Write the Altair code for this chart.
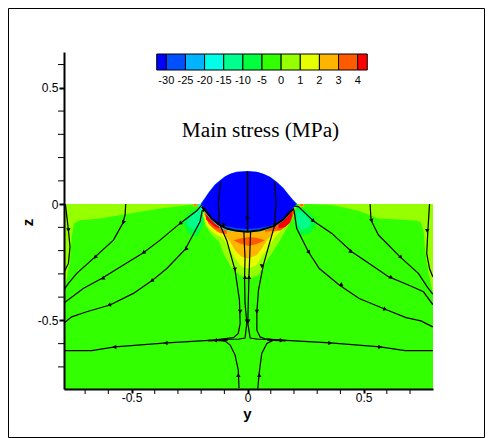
import altair as alt
import pandas as pd

# Axis limits
y_domain = [-0.791, 0.799]
z_domain = [-0.795, 0.654]
major_y = [-0.5, 0, 0.5]
major_z = [-0.5, 0, 0.5]
minor_y = [-0.7, -0.6, -0.4, -0.3, -0.2, -0.1, 0.1, 0.2, 0.3, 0.4, 0.6, 0.7]
minor_z = [0.6, 0.4, 0.3, 0.2, 0.1, -0.1, -0.2, -0.3, -0.4, -0.6, -0.7]

# Colour bar
bar_edges = [-0.5, 0, 1, 2, 3, 4, 5, 6, 7, 8, 9, 10, 10.5]
bar_colors = ["#0000ff", "#0050ff", "#00b4ff", "#00ffe6", "#00ff8c", "#00ff3c",
              "#32ff00", "#96ff00", "#e6ff00", "#ffb400", "#ff5a00", "#ff0000"]
bar_labels = ["-30", "-25", "-20", "-15", "-10", "-5", "0", "1", "2", "3", "4"]

# Filled contour bands, painted in this order: (colour, y, upper z, lower z)
bands = [
    ("#32ff00", [-0.791, 0.799], [0, 0], [-0.795, -0.795]),
    ("#96ff00", [-0.791, -0.780, -0.765, -0.758, -0.748, -0.722, -0.636, -0.521, -0.377, -0.226],
     [0] * 10, [-0.370, -0.327, -0.241, -0.141, -0.083, -0.069, -0.062, -0.043, -0.019, -0.001]),
    ("#96ff00", [0.248, 0.363, 0.478, 0.564, 0.708, 0.744, 0.758, 0.765, 0.780, 0.799],
     [0] * 10, [0, -0.004, -0.029, -0.062, -0.069, -0.076, -0.112, -0.198, -0.298, -0.384]),
    # side patches
    ("#00ff3c", [-0.280, -0.255, -0.219, -0.190], [-0.077, -0.040, -0.019, -0.004], [-0.077, -0.127, -0.140, -0.084]),
    ("#00ff8c", [-0.262, -0.240, -0.219, -0.205, -0.195], [-0.077, -0.048, -0.026, -0.012, -0.004],
     [-0.083, -0.105, -0.112, -0.098, -0.040]),
    ("#00ffe6", [-0.212, -0.195], [0, 0], [-0.010, -0.030]),
    ("#00ff3c", [0.205, 0.226, 0.269, 0.298], [-0.011, -0.011, -0.040, -0.076], [-0.098, -0.133, -0.126, -0.083]),
    ("#00ff8c", [0.212, 0.233, 0.262, 0.272], [-0.026, -0.033, -0.062, -0.076], [-0.083, -0.112, -0.098, -0.083]),
    # surface hot spots
    ("#ffb400", [-0.235, -0.215], [0, 0], [-0.010, -0.010]),
    ("#ff5a00", [-0.229, -0.221], [0, 0], [-0.006, -0.006]),
    ("#ffb400", [0.222, 0.245], [0, 0], [-0.012, -0.012]),
    ("#ff5a00", [0.228, 0.238], [0, 0], [-0.008, -0.008]),
    # tongue under the contact
    ("#96ff00", [-0.198, -0.183, -0.154, -0.122, -0.104, -0.068, -0.032, 0.011, 0.047, 0.075, 0.104, 0.140, 0.169, 0.198, 0.209],
     [0] * 15, [-0.011, -0.090, -0.133, -0.162, -0.213, -0.277, -0.305, -0.320, -0.305, -0.255, -0.212, -0.155, -0.105, -0.054, -0.011]),
    ("#e6ff00", [-0.190, -0.169, -0.133, -0.104, -0.083, -0.054, -0.025, 0.004, 0.040, 0.061, 0.090, 0.119, 0.140, 0.169, 0.198],
     [0] * 15, [-0.054, -0.105, -0.133, -0.148, -0.184, -0.234, -0.270, -0.277, -0.262, -0.227, -0.184, -0.141, -0.119, -0.090, -0.040]),
    ("#ffb400", [-0.186, -0.162, -0.133, -0.097, -0.075, -0.054, -0.025, 0.004, 0.040, 0.061, 0.083, 0.108, 0.140, 0.169, 0.198],
     [0] * 15, [-0.047, -0.090, -0.119, -0.133, -0.162, -0.198, -0.227, -0.234, -0.219, -0.191, -0.155, -0.126, -0.105, -0.076, -0.033]),
    ("#ff5a00", [-0.061, -0.032, 0.004, 0.040, 0.075], [-0.155, -0.148, -0.141, -0.145, -0.155],
     [-0.155, -0.169, -0.180, -0.172, -0.155]),
    ("#ff5a00", [-0.186, -0.169, -0.147, -0.119, -0.090], [-0.020, -0.030, -0.060, -0.080, -0.105],
     [-0.040, -0.083, -0.105, -0.123, -0.129]),
    ("#ff5a00", [0.075, 0.111, 0.140, 0.162, 0.183, 0.200], [-0.105, -0.090, -0.070, -0.060, -0.030, -0.010],
     [-0.119, -0.115, -0.115, -0.098, -0.069, -0.040]),
    ("#ff0000", [-0.179, -0.162, -0.140, -0.122], [-0.045, -0.055, -0.070, -0.085], [-0.066, -0.080, -0.098, -0.105]),
    ("#ff0000", [0.133, 0.162, 0.183, 0.193], [-0.085, -0.065, -0.040, -0.030], [-0.105, -0.098, -0.080, -0.055]),
    # rings of the compressed body
    ("#00ffe6", [-0.198, -0.183, -0.162, -0.140, -0.119, -0.090, -0.047, 0, 0.047, 0.090, 0.126, 0.154, 0.176, 0.195, 0.209],
     [0] * 15, [0, -0.037, -0.063, -0.085, -0.100, -0.113, -0.119, -0.122, -0.119, -0.108, -0.091, -0.073, -0.048, -0.025, 0]),
    ("#00b4ff", [-0.198, -0.183, -0.162, -0.140, -0.119, -0.090, -0.047, 0, 0.047, 0.090, 0.126, 0.154, 0.176, 0.195, 0.209],
     [0] * 15, [0, -0.034, -0.060, -0.081, -0.096, -0.110, -0.116, -0.118, -0.115, -0.104, -0.087, -0.069, -0.044, -0.022, 0]),
    ("#0050ff", [-0.203, -0.183, -0.169, -0.154, -0.140, -0.119, -0.097, -0.075, -0.047, 0, 0.040, 0.068, 0.097, 0.126, 0.154, 0.176, 0.195, 0.214],
     [0, 0.028, 0.049, 0.068, 0.085, 0.103, 0.120, 0.131, 0.139, 0.141, 0.139, 0.131, 0.118, 0.096, 0.070, 0.042, 0.020, 0],
     [0, -0.031, -0.050, -0.066, -0.078, -0.093, -0.103, -0.108, -0.112, -0.113, -0.110, -0.106, -0.098, -0.084, -0.066, -0.042, -0.020, 0]),
    ("#0000ff", [-0.198, -0.183, -0.169, -0.154, -0.140, -0.119, -0.097, -0.075, -0.047, 0, 0.040, 0.068, 0.097, 0.126, 0.154, 0.176, 0.195, 0.209],
     [0, 0.024, 0.046, 0.065, 0.082, 0.100, 0.118, 0.129, 0.138, 0.141, 0.138, 0.129, 0.115, 0.093, 0.067, 0.039, 0.017, 0],
     [0, -0.026, -0.040, -0.056, -0.070, -0.084, -0.094, -0.098, -0.104, -0.107, -0.104, -0.099, -0.093, -0.078, -0.060, -0.036, -0.015, 0]),
]

# Streamlines: (line width, y, z)
streams = [
    (1.2, [-0.785, -0.772, -0.765, -0.772, -0.790], [0, -0.112, -0.184, -0.255, -0.291]),
    (1.2, [-0.525, -0.528, -0.538, -0.578, -0.657, -0.736, -0.772, -0.790],
     [0, -0.047, -0.083, -0.155, -0.227, -0.298, -0.341, -0.367]),
    (1.2, [-0.198, -0.219, -0.291, -0.377, -0.449, -0.535, -0.629, -0.708, -0.790],
     [-0.004, -0.029, -0.083, -0.155, -0.209, -0.262, -0.320, -0.363, -0.424]),
    (1.2, [-0.195, -0.205, -0.269, -0.348, -0.413, -0.492, -0.593, -0.693, -0.758, -0.790],
     [-0.026, -0.076, -0.195, -0.277, -0.330, -0.384, -0.434, -0.463, -0.485, -0.511]),
    (1.2, [-0.119, -0.090, -0.054, -0.035, -0.032, -0.040, -0.061, -0.147, -0.348, -0.571, -0.672, -0.790],
     [-0.090, -0.155, -0.284, -0.413, -0.513, -0.556, -0.574, -0.585, -0.597, -0.614, -0.630, -0.630]),
    (1.2, [-0.037, -0.040, -0.054, -0.075, -0.097, -0.140], [-0.791, -0.714, -0.649, -0.606, -0.589, -0.585]),
    (1.2, [-0.016, -0.011, -0.013, -0.011, -0.003, -0.011, -0.041, -0.097],
     [-0.120, -0.232, -0.314, -0.426, -0.512, -0.576, -0.581, -0.581]),
    (1.2, [0.013, 0.009, 0.006, 0.003, 0.001, 0.011, 0.045, 0.097],
     [-0.120, -0.232, -0.314, -0.426, -0.512, -0.576, -0.581, -0.581]),
    (1.2, [0.119, 0.090, 0.068, 0.047, 0.040, 0.040, 0.054, 0.075, 0.147, 0.356, 0.571, 0.679, 0.798],
     [-0.083, -0.184, -0.262, -0.370, -0.463, -0.542, -0.571, -0.579, -0.585, -0.597, -0.614, -0.630, -0.630]),
    (1.2, [0.044, 0.050, 0.061, 0.083, 0.111, 0.147], [-0.793, -0.728, -0.642, -0.599, -0.585, -0.585]),
    (1.2, [0.202, 0.219, 0.284, 0.363, 0.449, 0.524, 0.609, 0.693, 0.758, 0.798],
     [-0.009, -0.011, -0.073, -0.126, -0.205, -0.255, -0.313, -0.348, -0.377, -0.432]),
    (1.2, [0.200, 0.212, 0.262, 0.309, 0.395, 0.481, 0.593, 0.683, 0.747, 0.798],
     [-0.026, -0.105, -0.205, -0.277, -0.348, -0.406, -0.452, -0.488, -0.502, -0.528]),
    (1.2, [0.528, 0.532, 0.564, 0.657, 0.736, 0.774, 0.798], [0, -0.069, -0.133, -0.227, -0.298, -0.356, -0.387]),
    (1.2, [0.784, 0.777, 0.772, 0.784, 0.798], [0, -0.112, -0.212, -0.277, -0.313]),
    (1.2, [-0.116, -0.126, -0.122], [0.096, 0.003, -0.083]),
    (1.2, [0.116, 0.123, 0.116], [0.096, 0.003, -0.083]),
    (1.5, [0, 0], [0.141, -0.118]),
    (2, [-0.198, -0.183, -0.154, -0.126, -0.090, -0.047, 0, 0.054, 0.111, 0.154, 0.183, 0.200],
     [-0.011, -0.026, -0.062, -0.086, -0.105, -0.115, -0.119, -0.112, -0.095, -0.066, -0.033, -0.019]),
    (2, [-0.170, -0.085], [-0.587, -0.583]),
    (2, [0.085, 0.165], [-0.583, -0.587]),
]

# Arrow heads along the streamlines
arrow_y = [-0.772, -0.535, -0.657, -0.291, -0.449, -0.624, -0.266, -0.413, -0.597, -0.054, -0.032, -0.140, -0.353, -0.574,
           -0.011, 0.006, -0.003, 0.003, 0, -0.190, -0.104, 0.119, -0.040,
           0.774, 0.535, 0.661, 0.284, 0.446, 0.619, 0.265, 0.406, 0.593, 0.061, 0.040, 0.147, 0.356, 0.571, 0.050]
arrow_z = [-0.112, -0.079, -0.229, -0.083, -0.209, -0.320, -0.194, -0.330, -0.434, -0.281, -0.463, -0.585, -0.597, -0.614,
           -0.314, -0.314, -0.505, -0.505, -0.054, -0.022, -0.090, -0.090, -0.735,
           -0.115, -0.072, -0.229, -0.073, -0.205, -0.316, -0.208, -0.348, -0.452, -0.267, -0.463, -0.585, -0.597, -0.614, -0.735]
arrow_angle = [180, 200, 225, 230, 235, 240, 220, 235, 250, 170, 180, 270, 270, 270,
               0, 0, 180, 180, 0, 315, 200, 160, 0,
               180, 165, 135, 130, 125, 120, 145, 125, 110, 190, 180, 90, 90, 90, 0]

FONT = "Liberation Sans"
x_scale = alt.Scale(domain=y_domain, nice=False, zero=False)
y_scale = alt.Scale(domain=z_domain, nice=False, zero=False)
X = lambda **kw: alt.X("y:Q", scale=x_scale, axis=None, **kw)
Y = lambda **kw: alt.Y("z:Q", scale=y_scale, axis=None, **kw)

# Axes with major ticks come first
axis_common = dict(grid=False, domainColor="black", domainWidth=2, tickColor="black", tickWidth=2,
                   labelFont=FONT, labelFontSize=12, labelColor="black", titleFont=FONT, titleFontWeight="bold",
                   titleFontSize=15, titleColor="black", zindex=1,
                   labelExpr="datum.value === 0 ? '0' : toString(datum.value)")
axes = alt.Chart(pd.DataFrame({"y": [0.0], "z": [0.0]})).mark_point(opacity=0).encode(
    x=alt.X("y:Q", scale=x_scale, title="y", axis=alt.Axis(values=major_y, tickSize=4, labelPadding=-1, titleX=183, titleY=29,
                                                           titleBaseline="alphabetic", **axis_common)),
    y=alt.Y("z:Q", scale=y_scale, title="z", axis=alt.Axis(values=major_z, tickSize=5, labelPadding=1, titleX=-37, titleY=170,
                                                           titleBaseline="middle", **axis_common)),
)
layers = [axes]

for color, ys, top, bottom in bands:
    df = pd.DataFrame({"y": ys, "z": top, "z2": bottom})
    layers.append(alt.Chart(df).mark_area(color=color, orient="vertical", opacity=1).encode(
        x=X(), y=Y(), y2="z2:Q"))

for width, ys, zs in streams:
    df = pd.DataFrame({"y": ys, "z": zs, "i": range(len(ys))})
    layers.append(alt.Chart(df).mark_line(color="black", strokeWidth=width, clip=True).encode(
        x=X(), y=Y(), order="i:Q"))

arrows = pd.DataFrame({"y": arrow_y, "z": arrow_z, "a": arrow_angle})
layers.append(alt.Chart(arrows).mark_point(shape="triangle-up", filled=True, size=20, color="black", opacity=1).encode(
    x=X(), y=Y(), angle=alt.Angle("a:Q", scale=None)))

# Minor ticks
layers.append(alt.Chart(pd.DataFrame({"y": minor_y})).mark_rule(color="black", strokeWidth=1).encode(
    x=X(), y=alt.value(337), y2=alt.value(342)))
layers.append(alt.Chart(pd.DataFrame({"z": minor_z})).mark_rule(color="black", strokeWidth=1).encode(
    y=Y(), x=alt.value(-6), x2=alt.value(0)))

# Colour bar, on a level-index scale of its own
bar_scale = alt.Scale(domain=[0, 10], range=[102.3, 293.7], nice=False, zero=False)
bar_df = pd.DataFrame({"a": bar_edges[:-1], "b": bar_edges[1:], "c": bar_colors})
layers.append(alt.Chart(bar_df).mark_rect(stroke="black", strokeWidth=1, opacity=1).encode(
    x=alt.X("a:Q", scale=bar_scale, axis=None), x2="b:Q", y=alt.value(2), y2=alt.value(18),
    fill=alt.Fill("c:N", scale=None)))
lab_df = pd.DataFrame({"a": list(range(11)), "t": bar_labels})
layers.append(alt.Chart(lab_df).mark_text(font=FONT, fontSize=11, color="black", baseline="middle", align="center").encode(
    x=alt.X("a:Q", scale=bar_scale, axis=None), y=alt.value(29), text="t:N"))

# Title inside the plot
layers.append(alt.Chart(pd.DataFrame({"t": ["Main stress (MPa)"]})).mark_text(
    font="Liberation Serif", fontSize=21.3, color="black", align="center", baseline="alphabetic").encode(
    x=alt.value(196.5), y=alt.value(85), text="t:N"))

# Outer frame
layers.append(alt.Chart(pd.DataFrame({"k": [0]})).mark_rect(fillOpacity=0, stroke="black", strokeWidth=1).encode(
    x=alt.value(-55.5), x2=alt.value(420.5), y=alt.value(-43.5), y2=alt.value(385.5)))

chart = (
    alt.layer(*layers)
    .resolve_scale(x="independent")
    .resolve_axis(y="independent")
    .properties(width=369, height=337, autosize=alt.AutoSizeParams(type="none"),
                padding={"left": 56, "top": 44, "right": 52, "bottom": 49}, background="white")
    .configure_view(stroke=None)
)
chart.save("out.html", embed_options={"renderer": "svg", "actions": False})
